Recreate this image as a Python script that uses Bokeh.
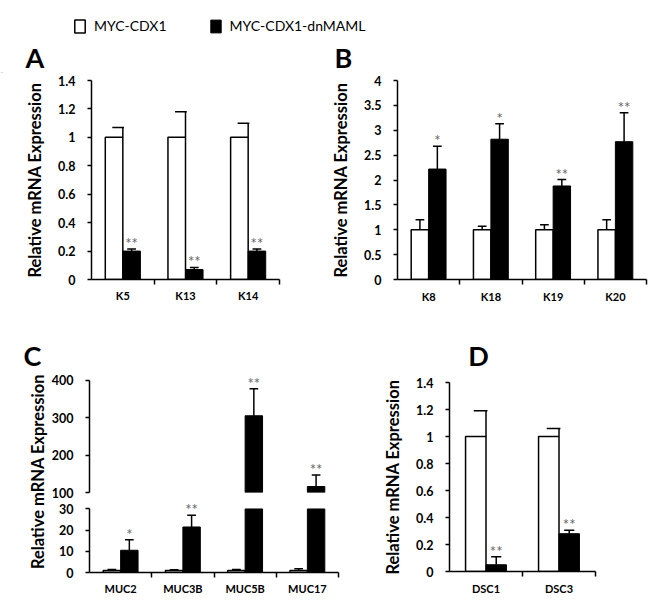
import numpy as np
from bokeh.plotting import figure
from bokeh.models import (Range1d, FixedTicker, NumeralTickFormatter, Label,
                          Legend, LegendItem)
from bokeh.layouts import column, row
from bokeh.embed import file_html
from bokeh.resources import INLINE
from bokeh.core.properties import value

# ---------------- data ----------------
legend_labels = ["MYC-CDX1", "MYC-CDX1-dnMAML"]
panel_letters = ["A", "B", "C", "D"]
y_title = "Relative mRNA Expression"

genes_A = ["K5", "K13", "K14"]
ctrl_A = [1.0, 1.0, 1.0]
ctrl_err_A = [0.07, 0.18, 0.10]
dn_A = [0.20, 0.07, 0.20]
dn_err_A = [0.015, 0.015, 0.015]
sig_A = ["**", "**", "**"]
yticks_A = [0, 0.2, 0.4, 0.6, 0.8, 1.0, 1.2, 1.4]

genes_B = ["K8", "K18", "K19", "K20"]
ctrl_B = [1.0, 1.0, 1.0, 1.0]
ctrl_err_B = [0.20, 0.07, 0.10, 0.20]
dn_B = [2.22, 2.82, 1.88, 2.77]
dn_err_B = [0.46, 0.31, 0.13, 0.58]
sig_B = ["*", "*", "**", "**"]
yticks_B = [0, 0.5, 1.0, 1.5, 2.0, 2.5, 3.0, 3.5, 4.0]

genes_C = ["MUC2", "MUC3B", "MUC5B", "MUC17"]
ctrl_C = [1.0, 1.0, 1.0, 1.0]
ctrl_err_C = [0.4, 0.3, 0.4, 0.8]
dn_C = [10.5, 21.5, 305.0, 116.0]
dn_err_C = [5.0, 5.5, 72.0, 31.0]
sig_C = ["*", "**", "**", "**"]
yticks_C_low = [0, 10, 20, 30]
yticks_C_high = [100, 200, 300, 400]
break_low, break_high = 30, 100

genes_D = ["DSC1", "DSC3"]
ctrl_D = [1.0, 1.0]
ctrl_err_D = [0.19, 0.06]
dn_D = [0.05, 0.28]
dn_err_D = [0.06, 0.025]
sig_D = ["**", "**"]
yticks_D = [0, 0.2, 0.4, 0.6, 0.8, 1.0, 1.2, 1.4]

# ---------------- style ----------------
FONT = "Lato"
BAR_W = 0.28
STAR_COLOR = "#666666"
LETTER_SIZE = "27px"
BASELINE_FIX = 10  # bokeh draws 'alphabetic' text this many px lower


def strip(width, height):
    """A blank figure whose frame is the whole canvas; data units == pixels."""
    p = figure(width=width, height=height, output_backend="svg",
               toolbar_location=None, x_axis_location=None,
               y_axis_location=None, min_border_left=0, min_border_right=0,
               min_border_top=0, min_border_bottom=0,
               x_range=Range1d(0, width), y_range=Range1d(0, height))
    p.outline_line_color = None
    p.xgrid.visible = False
    p.ygrid.visible = False
    p.background_fill_color = "white"
    p.border_fill_color = "white"
    return p


def letter(p, txt, x, y, baseline="alphabetic"):
    fix = BASELINE_FIX if baseline == "alphabetic" else 0
    p.add_layout(Label(x=x, y=y + fix, text=txt, text_font=FONT,
                       text_font_style="bold", text_font_size=LETTER_SIZE,
                       text_align="left", text_baseline=baseline,
                       text_color="black"))


def base_fig(width, height, yr, n, l, r, t, b, xaxis=True):
    p = figure(width=width, height=height, x_range=Range1d(0, n), y_range=yr,
               output_backend="svg", toolbar_location=None,
               min_border_left=l, min_border_right=r, min_border_top=t,
               min_border_bottom=b,
               x_axis_location="below" if xaxis else None)
    p.outline_line_color = None
    p.xgrid.visible = False
    p.ygrid.visible = False
    p.background_fill_color = "white"
    p.border_fill_color = "white"
    return p


def style_y(p, ticks, fmt, bounds, label=None):
    ax = p.yaxis[0]
    ax.ticker = FixedTicker(ticks=ticks)
    ax.formatter = NumeralTickFormatter(format=fmt)
    ax.bounds = bounds
    ax.axis_line_color = "black"
    ax.axis_line_width = 1.5
    ax.major_tick_in = 0
    ax.major_tick_out = 4
    ax.major_tick_line_width = 1.5
    ax.minor_tick_line_color = None
    ax.major_label_text_font = FONT
    ax.major_label_text_font_style = "bold"
    ax.major_label_text_font_size = "12.5px"
    ax.major_label_text_color = "black"
    ax.major_label_standoff = 12
    if label:
        ax.axis_label = label
        ax.axis_label_text_font = FONT
        ax.axis_label_text_font_style = "bold"
        ax.axis_label_text_font_size = "16.5px"
        ax.axis_label_text_color = "black"
        ax.axis_label_standoff = 10


def style_x(p, genes, standoff=4):
    ax = p.xaxis[0]
    n = len(genes)
    centers = [i + 0.5 for i in range(n)]
    ax.ticker = FixedTicker(ticks=centers, minor_ticks=list(range(1, n + 1)))
    ax.major_label_overrides = {c: g for c, g in zip(centers, genes)}
    ax.axis_line_color = "black"
    ax.axis_line_width = 1.5
    ax.major_tick_in = 0
    ax.major_tick_out = 0
    ax.minor_tick_in = 0
    ax.minor_tick_out = 5
    ax.minor_tick_line_color = "black"
    ax.minor_tick_line_width = 1.5
    ax.major_label_text_font = FONT
    ax.major_label_text_font_style = "bold"
    ax.major_label_text_font_size = "11px"
    ax.major_label_text_color = "black"
    ax.major_label_standoff = standoff


def draw_bars(p, ctrl, ctrl_err, dn, dn_err, sig, shift, bottom=0,
              ctrl_mask=None, dn_mask=None, err_mask_c=None, err_mask_d=None,
              cap_top=None):
    n = len(ctrl)
    centers = np.arange(n) + 0.5
    xc = centers - BAR_W / 2
    xd = centers + BAR_W / 2
    ctrl = np.asarray(ctrl, float)
    dn = np.asarray(dn, float)
    ce = np.asarray(ctrl_err, float)
    de = np.asarray(dn_err, float)
    cm = np.ones(n, bool) if ctrl_mask is None else ctrl_mask
    dm = np.ones(n, bool) if dn_mask is None else dn_mask
    ecm = np.ones(n, bool) if err_mask_c is None else err_mask_c
    edm = np.ones(n, bool) if err_mask_d is None else err_mask_d
    dtop = dn if cap_top is None else np.minimum(dn, cap_top)
    ctop = ctrl if cap_top is None else np.minimum(ctrl, cap_top)
    p.vbar(x=xc[cm], top=ctop[cm], bottom=bottom, width=BAR_W,
           fill_color="white", line_color="black", line_width=1.5)
    p.vbar(x=xd[dm], top=dtop[dm], bottom=bottom, width=BAR_W,
           fill_color="black", line_color="black", line_width=1)
    # error bars (upper only)
    ex = xc + shift * BAR_W
    if shift > 0:
        cl, cr = 0.6 * BAR_W, 0.07 * BAR_W
    else:
        cl, cr = 0.25 * BAR_W, 0.25 * BAR_W
    p.segment(x0=ex[ecm], y0=ctrl[ecm], x1=ex[ecm], y1=(ctrl + ce)[ecm],
              line_color="black", line_width=1.5)
    p.segment(x0=(ex - cl)[ecm], y0=(ctrl + ce)[ecm], x1=(ex + cr)[ecm],
              y1=(ctrl + ce)[ecm], line_color="black", line_width=1.5)
    p.segment(x0=xd[edm], y0=dn[edm], x1=xd[edm], y1=(dn + de)[edm],
              line_color="black", line_width=1.5)
    p.segment(x0=(xd - 0.25 * BAR_W)[edm], y0=(dn + de)[edm],
              x1=(xd + 0.25 * BAR_W)[edm], y1=(dn + de)[edm],
              line_color="black", line_width=1.5)
    p.text(x=xd[edm], y=(dn + de)[edm], text=list(np.array(sig)[edm]),
           text_align="center", text_baseline="bottom",
           text_font=value(FONT), text_font_size="15px",
           text_color=STAR_COLOR, y_offset=3)


# ---------------- top strip: legend + letters A, B ----------------
top = strip(668, 73)
# legend proxies: panel-A series drawn on a range that keeps them out of view
top.extra_y_ranges = {"proxy": Range1d(10, 20)}
proxy_x = np.arange(len(genes_A)) + 0.5
r_w = top.vbar(x=proxy_x, top=ctrl_A, width=BAR_W, fill_color="white",
               line_color="black", line_width=1.5, y_range_name="proxy")
r_b = top.vbar(x=proxy_x, top=dn_A, width=BAR_W, fill_color="black",
               line_color="black", y_range_name="proxy")
legend = Legend(items=[LegendItem(label=legend_labels[0], renderers=[r_w]),
                       LegendItem(label=legend_labels[1], renderers=[r_b])],
                location=(73, 39), orientation="horizontal",
                border_line_color=None, background_fill_alpha=0,
                padding=0, margin=0, spacing=42, glyph_width=13,
                glyph_height=16, label_height=16, label_standoff=8,
                label_text_font=FONT, label_text_font_size="14px",
                label_text_color="black")
top.add_layout(legend)
letter(top, panel_letters[0], 25, 0, baseline="bottom")
letter(top, panel_letters[1], 334, 0, baseline="bottom")

# ---------------- panel A ----------------
pA = base_fig(328, 235, Range1d(0, 1.4), len(genes_A), 91, 49, 6, 27)
style_y(pA, yticks_A, "0.[0]", (0, 1.4), y_title)
style_x(pA, genes_A)
draw_bars(pA, ctrl_A, ctrl_err_A, dn_A, dn_err_A, sig_A, shift=0.5)

# ---------------- panel B ----------------
pB = base_fig(340, 235, Range1d(0, 4), len(genes_B), 68, 22, 7, 29)
style_y(pB, yticks_B, "0.[0]", (0, 4), y_title)
style_x(pB, genes_B, standoff=5)
draw_bars(pB, ctrl_B, ctrl_err_B, dn_B, dn_err_B, sig_B, shift=0.0)

# ---------------- panel C (broken axis) ----------------
labC = strip(48, 297)
labC.add_layout(Label(x=37, y=134, text=y_title, angle=np.pi / 2,
                      text_font=FONT, text_font_style="bold",
                      text_font_size="16.5px", text_align="center",
                      text_baseline="middle", text_color="black"))
letter(labC, panel_letters[2], 23, 240)

nC = len(genes_C)
dnC = np.asarray(dn_C, float)
topC = dnC + np.asarray(dn_err_C, float)
ctrl_topC = np.asarray(ctrl_C, float) + np.asarray(ctrl_err_C, float)

pCu = base_fig(292, 192, Range1d(break_high, 450), nC, 40, 2, 53, 8,
               xaxis=False)
style_y(pCu, yticks_C_high, "0", (break_high, 400))
draw_bars(pCu, ctrl_C, ctrl_err_C, dn_C, dn_err_C, sig_C, shift=0.0,
          bottom=break_high,
          ctrl_mask=np.asarray(ctrl_C) > break_high,
          dn_mask=dnC > break_high,
          err_mask_c=ctrl_topC > break_high,
          err_mask_d=topC > break_high)

pCl = base_fig(292, 105, Range1d(0, 34), nC, 40, 2, 0, 33)
style_y(pCl, yticks_C_low, "0", (0, break_low))
style_x(pCl, genes_C, standoff=4)
draw_bars(pCl, ctrl_C, ctrl_err_C, dn_C, dn_err_C, sig_C, shift=0.0,
          err_mask_c=ctrl_topC <= break_low, err_mask_d=topC <= break_low,
          cap_top=break_low)

# ---------------- panel D ----------------
topD = strip(328, 65)
letter(topD, panel_letters[3], 42, 8)

pD = base_fig(328, 232, Range1d(0, 1.4), len(genes_D), 109, 73, 9, 34)
style_y(pD, yticks_D, "0.[0]", (0, 1.4), y_title)
style_x(pD, genes_D, standoff=5)
draw_bars(pD, ctrl_D, ctrl_err_D, dn_D, dn_err_D, sig_D, shift=0.5)

layout = column(top, row(pA, pB),
                row(labC, column(pCu, pCl), column(topD, pD)))

with open("out.html", "w") as f:
    f.write(file_html(layout, INLINE))
